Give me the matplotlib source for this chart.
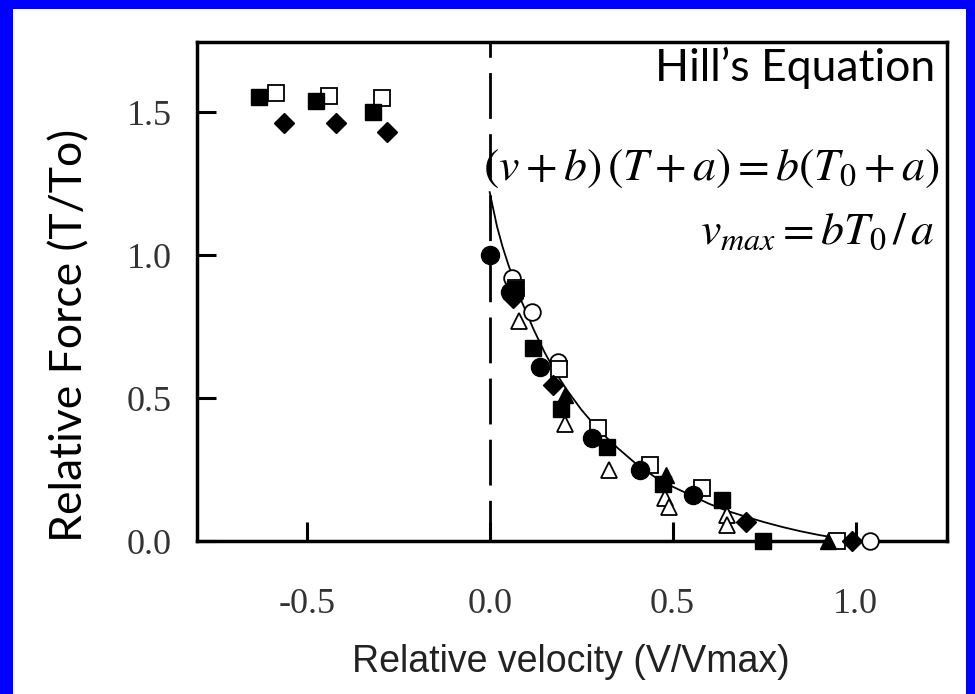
import matplotlib
matplotlib.use("Agg")
import matplotlib.pyplot as plt
from matplotlib.patches import Rectangle

plt.rcParams['lines.scale_dashes'] = False
plt.rcParams['mathtext.fontset'] = 'stix'

# ---- data ----
fsq_x = [-0.631, -0.475, -0.32, 0.07, 0.118, 0.196, 0.32, 0.473, 0.636, 0.746]
fsq_y = [1.552, 1.54, 1.50, 0.88, 0.675, 0.46, 0.33, 0.20, 0.145, 0.0]
osq_x = [-0.585, -0.44, -0.295, 0.073, 0.19, 0.296, 0.437, 0.58, 0.95]
osq_y = [1.566, 1.556, 1.55, 0.885, 0.60, 0.395, 0.265, 0.185, 0.0]
fdi_x = [-0.563, -0.42, -0.28, 0.064, 0.173, 0.70, 0.99]
fdi_y = [1.46, 1.46, 1.43, 0.85, 0.545, 0.067, 0.0]
fci_x = [0.0, 0.055, 0.137, 0.28, 0.41, 0.555]
fci_y = [1.0, 0.87, 0.61, 0.36, 0.25, 0.16]
oci_x = [0.062, 0.115, 0.186, 1.04]
oci_y = [0.92, 0.80, 0.625, 0.0]
otr_x = [0.08, 0.205, 0.326, 0.48, 0.49, 0.65, 0.65]
otr_y = [0.77, 0.41, 0.25, 0.15, 0.12, 0.09, 0.055]
ftr_x = [0.205, 0.483, 0.925]
ftr_y = [0.51, 0.23, 0.0]

curve_x = [0.0, 0.01, 0.02, 0.035, 0.05, 0.065, 0.08, 0.10, 0.12, 0.15, 0.18, 0.21,
           0.25, 0.30, 0.35, 0.40, 0.45, 0.50, 0.55, 0.60, 0.65, 0.70, 0.75, 0.80,
           0.85, 0.90, 0.95, 1.0]
curve_y = [1.22, 1.16, 1.10, 1.03, 0.97, 0.915, 0.86, 0.80, 0.74, 0.66, 0.59, 0.53,
           0.46, 0.385, 0.325, 0.27, 0.225, 0.19, 0.16, 0.13, 0.105, 0.085, 0.066, 0.049,
           0.034, 0.021, 0.010, 0.0]

xticks = [-0.5, 0.0, 0.5, 1.0]
xtick_labels = ['-0.5', '0.0', '0.5', '1.0']
yticks = [0.0, 0.5, 1.0, 1.5]
ytick_labels = ['0.0', '0.5', '1.0', '1.5']

W, H = 975, 694
fig = plt.figure(figsize=(W / 100, H / 100), dpi=100)
fig.patch.set_facecolor('#0000FF')
fig.patches.append(Rectangle((13 / W, 0), (966 - 13) / W, (H - 9) / H,
                             transform=fig.transFigure, facecolor='white',
                             edgecolor='none', zorder=-10))

ax = fig.add_axes([197 / W, 1 - 541 / H, (947 - 197) / W, (541 - 42) / H])
ax.set_xlim(-0.8, 1.25)
ax.set_ylim(0.0, 1.745)

ax.plot([0, 0], [1.745, 0], color='black', lw=2.0,
        linestyle=(22, (33, 11)), zorder=1)
ax.plot(curve_x, curve_y, color='black', lw=1.3, zorder=2)

common = dict(linestyle='none', clip_on=False, zorder=3)
ax.plot(otr_x, otr_y, marker='^', ms=11, mfc='white', mec='black', mew=1.3, **common)
ax.plot(oci_x, oci_y, marker='o', ms=12, mfc='white', mec='black', mew=1.3, **common)
ax.plot(osq_x, osq_y, marker='s', ms=11, mfc='white', mec='black', mew=1.3, **common)
ax.plot(fci_x, fci_y, marker='o', ms=13, mfc='black', mec='black', **common)
ax.plot(fsq_x, fsq_y, marker='s', ms=11, mfc='black', mec='black', **common)
ax.plot(fdi_x, fdi_y, marker='D', ms=10, mfc='black', mec='black', **common)
ax.plot(ftr_x, ftr_y, marker='^', ms=11, mfc='black', mec='black', **common)

for s in ax.spines.values():
    s.set_linewidth(2.5)
ax.set_xticks(xticks)
ax.set_xticklabels(xtick_labels)
ax.set_yticks(yticks)
ax.set_yticklabels(ytick_labels)
ax.tick_params(direction='in', length=14, width=2.2, labelsize=26,
               labelcolor='#333333')
for lab in ax.get_xticklabels() + ax.get_yticklabels():
    lab.set_family('Liberation Serif')
ax.tick_params(axis='x', pad=34)
ax.tick_params(axis='y', pad=18)

fig.text(70 / W, 1 - 335 / H, 'Relative Force (T/To)', rotation=90,
         ha='center', va='center', fontsize=32, family='Lato', color='black')
fig.text(571 / W, 1 - 662 / H, 'Relative velocity (V/Vmax)', ha='center',
         va='center', fontsize=27, family='Liberation Sans', color='#222222')

fig.text(935 / W, 1 - 68 / H, "Hill\u2019s Equation", ha='right', va='center',
         fontsize=32, family='Lato', color='black')
fig.text(940 / W, 1 - 167 / H,
         r'$\left(v+b\right)\,\left(T+a\right)=b\left(T_0+a\right)$',
         ha='right', va='center', fontsize=33, color='black')
fig.text(935 / W, 1 - 232 / H, r'$v_{max}=bT_0\,/\,a$', ha='right', va='center',
         fontsize=33, color='black')

fig.savefig('out.png', dpi=100, facecolor=fig.get_facecolor())
